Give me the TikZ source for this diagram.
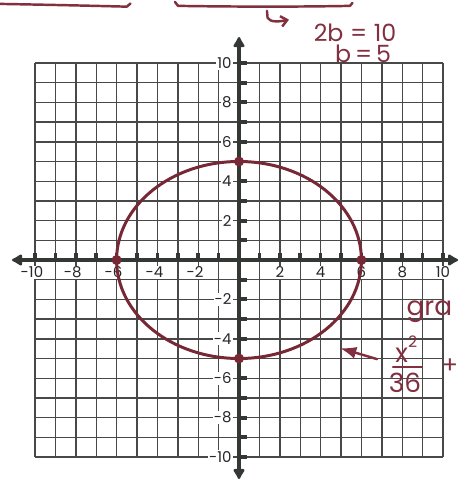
\documentclass[tikz,border=0pt]{standalone}
\usepackage{fontspec}
\setmainfont{Poppins}
\usetikzlibrary{arrows.meta}
\definecolor{inkc}{RGB}{130,48,64}
\definecolor{ellc}{RGB}{118,40,52}
\definecolor{axisc}{RGB}{52,56,52}
\definecolor{gridc}{RGB}{72,72,72}

\begin{document}
\begin{tikzpicture}[x=0.408cm,y=0.394cm,>=Latex,
  gridline/.style={gridc,line width=0.8pt},
  axisline/.style={axisc,line width=2.8pt,{Latex[round,length=7pt,width=8pt]}-{Latex[round,length=7pt,width=8pt]}},
  axlab/.style={font=\fontsize{8.5}{9}\selectfont,text=black!85,fill=white,inner sep=0.6pt},
  ellline/.style={ellc,line width=1.7pt},
  vdot/.style={circle,fill=ellc,inner sep=0pt,minimum size=0.2cm},
  ink/.style={inkc,line width=1.4pt,line cap=round,line join=round},
  inktext/.style={text=inkc,font=\fontsize{13.5}{14}\selectfont,inner sep=0pt}]
\useasboundingbox (-11.716,-11.218) rectangle (10.882,13.198);
% graph paper, 20 x 20 squares
\foreach \k in {-10,...,10}{
  \draw[gridline] (\k,-10) -- (\k,10);
  \draw[gridline] (-10,\k) -- (10,\k);
}
% axes with end blobs
\coordinate (xlo) at (-11.13,0);
\coordinate (xhi) at (10.74,0);
\coordinate (ylo) at (0,-11.12);
\coordinate (yhi) at (0,11.32);
\draw[axisline] (xlo) -- (xhi);
\draw[axisline] (ylo) -- (yhi);
% little tick nubs on both axes
\foreach \k in {-10,...,10}{
  \fill[axisc] (\k-0.09,0.1) rectangle (\k+0.09,0.36);
  \fill[axisc] (0.1,\k-0.1) rectangle (0.4,\k+0.1);
}
% axis numbers
\foreach \k in {2,4,...,10}{
  \node[axlab] (xp\k) at (\k,-0.62) {\k};
  \node[axlab] (xn\k) at (-\k-0.15,-0.62) {-\k};
  \node[axlab,anchor=east] (yp\k) at (-0.3,\k) {\k};
  \node[axlab,anchor=east] (yn\k) at (-0.3,-\k) {-\k};
}
% the ellipse x^2/36 + y^2/25 = 1 and its vertices
\draw[ellline] (0,0) ellipse [x radius=6, y radius=5];
\node[vdot] (vr) at (6,0) {};
\node[vdot] (vl) at (-6,0) {};
\node[vdot] (vt) at (0,5) {};
\node[vdot] (vb) at (0,-5) {};
% handwritten notes, top
\draw[ink] (-11.72,13.0) .. controls (-9,12.95) and (-7,12.9) .. (-5.5,12.86) -- (-5.32,13.02);
\draw[ink] (-3.14,13.1) -- (-2.99,12.9) .. controls (0,12.85) and (3,12.85) .. (5.44,12.9) -- (5.56,13.05);
\coordinate (hk0) at (1.37,12.65);
\coordinate (hk1) at (2.45,12.2);
\draw[ink,-{Straight Barb[length=3.5pt,width=6pt]}] (hk0) -- (1.4,12.3) .. controls (1.5,12.05) and (2,12.1) .. (hk1);
\node[inktext] (eq2b) at (5.69,11.55) {2b\;=\;10};
\node[inktext] (eqb) at (6.08,10.45) {b\,=\,5};
% handwritten notes, right
\node[inktext,font=\fontsize{15}{16}\selectfont,anchor=west] (grw) at (8.2,-2.6) {gra};
\coordinate (ar0) at (6.76,-5.03);
\coordinate (ar1) at (4.95,-4.47);
\draw[ink,->] (ar0) -- (ar1);
\node[inktext,font=\fontsize{15}{16}\selectfont,anchor=base west] (fx) at (7.65,-5.2) {x\raisebox{0.55em}{\fontsize{9}{10}\selectfont 2}};
\coordinate (fb0) at (7.55,-5.43);
\coordinate (fb1) at (8.97,-5.43);
\draw[ink] (fb0) -- (fb1);
\node[inktext,font=\fontsize{15}{16}\selectfont] (fden) at (8.14,-6.24) {36};
\node[inktext] (fplus) at (10.34,-5.38) {+};
\end{tikzpicture}
\end{document}
